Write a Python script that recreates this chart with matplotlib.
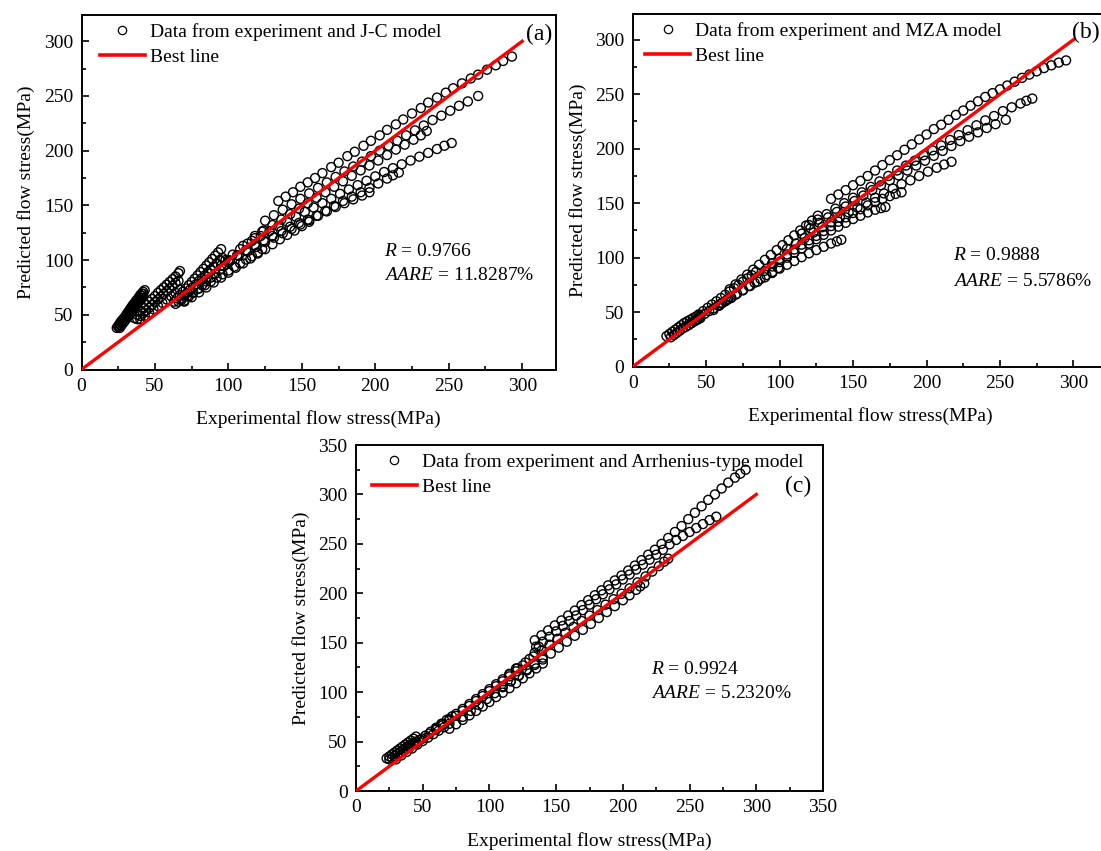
import matplotlib
matplotlib.use("Agg")
import matplotlib.pyplot as plt
from matplotlib.lines import Line2D
from matplotlib.ticker import MultipleLocator

plt.rcParams['font.family'] = ['Liberation Serif', 'DejaVu Serif']
plt.rcParams['mathtext.fontset'] = 'custom'
plt.rcParams['mathtext.it'] = 'Liberation Serif:italic'
plt.rcParams['mathtext.rm'] = 'Liberation Serif'

# ---------------- Panel (a): J-C model ----------------
A1 = [(134,154),(139,158),(144,162),(149,167),(154,171),(159,175),(164,179.5),(170,185),(175,189),(181,195),
      (186,199),(192,204.5),(197,209),(203,214),(208,219),(214,224),(219,228.5),(225,234),(231,239),(236,244),
      (242,248.5),(248,253),(253,257),(259,261.5),(265,266),(270,269.5),(276,274),(282,278),(287,282),(293,286)]
A2 = [(125,136),(131,141),(137,146),(143,151),(149,156),(155,161),(161,166),(167,171),(173,176),(179,181),
      (185,185.5),(191,190),(197,195),(203,200),(209,204.5),(215,209),(221,214),(227,218.5),(233,223),(239,228),
      (245,232),(251,236.5),(257,241),(263,245),(270,250)]
A3 = [(118,122),(124,127),(130,132),(136,137),(142,142),(148,147),(154,152),(160,157),(166,162),(172,167),
      (178,172),(184,177),(190,182),(196,186.5),(202,191),(208,196),(214,201),(220,205.5),(226,210),(231,214),(235,218)]
A4 = [(110,113),(116,117.5),(122,122),(128,126.5),(134,131),(140,135),(146,139.5),(152,144),(158,148),(164,152),
      (170,156),(176,160.5),(182,164.5),(188,168.5),(194,172.5),(200,176.5),(206,180.5),(212,184),(218,187.5),
      (224,191),(230,194.5),(236,198),(242,201.5),(247,204.5),(252,207)]
A5 = [(100,100),(106,104.5),(112,109),(118,113.5),(124,118),(130,122),(136,126.5),(142,130.5),(148,134),(154,137),
      (160,140.5),(166,145),(172,149.5),(178,154),(184,158),(190,162),(196,166),(202,170),(208,174.5),(212,177.5),(216,180)]
A6 = [(95,95),(101,99.5),(107,104),(113,108),(119,112),(125,116.5),(131,120.5),(137,124.5),(143,128.5),(149,132.5),
      (155,136.5),(161,140.5),(167,144.5),(173,148.5),(179,152),(185,155.5),(191,159),(196,162)]
A7 = [(64,60),(68,63.5),(72,67),(76,70.5),(80,74),(84,77),(88,80.5),(92,84),(96,87),(100,90.5),(104,94),(108,97),
      (112,100.5),(116,103.5),(120,107),(123,110)]
A8 = [(70,62),(75,66),(80,70.5),(85,75),(90,79.5),(95,84),(100,88.5),(105,93),(110,97),(115,101.5),(120,106),
      (125,110),(130,114.5),(135,119),(140,123),(145,127),(150,131),(155,135)]
A9 = [(98,100),(103,105),(108,110),(113,115),(118,120),(123,126)]
A10 = [(24,38),(25,40),(26,42),(27,44),(28,45.5),(29,47),(30,49),(31,51),(32,53),(33,55),(34,57),(35,59),
       (36,60.5),(37,62.5),(38,64),(39,66),(40,68),(41,69.5),(42,71),(43,72.5)]
A11 = [(26,38),(27,40),(28,42),(29,43.5),(30,45.5),(31,47),(32,49),(33,51),(34,53),(35,54.5),(36,56.5),(37,58),
       (38,60),(39,62),(40,63.5),(41,65)]
A18 = [(25,39),(26,41),(27,43),(28,44.5),(29,46),(30,48),(31,50),(32,52),(33,54),(34,55.5),(35,57.5),(36,59),
       (37,61),(38,62.5),(39,64.5),(40,66),(41,67.5),(42,69)]
A12 = [(36,47),(38,50),(40,53),(42,56),(44,59),(46,62),(48,64.5),(50,67),(52,70),(54,72.5),(56,75),(58,77.5),
       (60,80),(62,82.5),(64,85),(66,88),(67,90)]
A13 = [(38,46),(40,49),(42,51.5),(44,54),(46,56.5),(48,59),(50,61.5),(52,64),(54,66.5),(56,69),(58,71.5),(60,74),
       (62,76.5),(64,79),(66,81)]
A14 = [(40,46),(43,49),(46,52),(49,55),(52,58),(55,61),(58,64),(61,67),(64,70),(67,73)]
A15 = [(63,62),(65,65),(67,68),(69,71),(71,74),(73,77),(75,80),(77,83),(79,86),(81,89),(83,92),(85,95),(87,98),
       (89,101),(91,104),(93,107),(95,110)]
A16 = [(66,62),(68,65),(70,67.5),(72,70),(74,73),(76,75.5),(78,78),(80,81),(82,83.5),(84,86),(86,89),(88,91.5),
       (90,94),(92,97),(94,100),(96,102)]
A17 = [(70,63),(73,66.5),(76,70),(79,73.5),(82,77),(85,80.5),(88,84),(91,87.5),(94,91),(97,94.5),(100,98)]

# ---------------- Panel (b): MZA model ----------------
B1 = [(135,154),(140,158),(145,162),(150,166.5),(155,170.5),(160,175),(165,180),(170,185),(175,189.5),(180,194),
      (185,199),(190,204),(195,208.5),(200,213),(205,218),(210,222),(215,226.5),(220,231),(225,235),(230,239.5),
      (235,243.5),(240,247.5),(245,251),(250,254.5),(255,258),(260,261.5),(265,265),(270,268),(275,271),(280,274),
      (285,276.5),(290,279),(295,281)]
B2 = [(120,130),(126,135),(132,140),(138,145),(144,150),(150,155),(156,160),(162,165),(168,170),(174,175),
      (180,180),(186,184.5),(192,189),(198,194),(204,198.5),(210,203),(216,208),(222,212.5),(228,217),(234,221.5),
      (240,226),(246,230),(252,234.5),(258,238),(264,241.5),(268,244),(272,246)]
B3 = [(115,122),(121,127),(127,132),(133,137),(139,142),(145,147),(151,152),(157,157),(163,162),(169,166.5),
      (175,171),(181,175.5),(187,180),(193,184.5),(199,189),(205,193.5),(211,198),(217,202.5),(223,207),(229,211),
      (235,215),(241,219),(247,222.5),(254,226.5)]
B4 = [(105,108),(111,113),(117,118),(123,123),(129,128),(135,132.5),(141,137),(147,141.5),(153,146),(159,150.5),
      (165,155),(171,159),(177,163.5),(183,167.5),(189,171),(195,175),(201,179),(207,182.5),(212,185.5),(217,188)]
B5 = [(95,95),(100,99),(105,103),(110,107.5),(115,112),(120,116),(125,120),(130,124.5),(135,129),(140,133),
      (145,137),(150,141),(155,144.5),(160,148),(165,151),(170,154),(175,156.5),(179,158.5),(183,160)]
B6 = [(90,88),(95,92),(100,96),(105,100),(110,104.5),(115,108.5),(120,113),(125,117),(130,121),(135,125),
      (140,128.5),(145,132),(150,135.5),(155,138.5),(160,141.5),(165,144),(169,145.5),(172,146.5)]
B7 = [(60,58),(65,62),(70,66),(75,70),(80,74),(85,78),(90,82),(95,86),(100,90),(105,93.5),(110,97),(115,100.5),
      (120,104),(125,107),(130,110),(135,113),(139,115),(142,116.5)]
B8 = [(23,28),(25,30),(27,32),(29,34),(31,36),(33,38),(35,40),(37,41.5),(39,43),(41,44.5),(43,46),(45,47)]
B9 = [(26,27),(28,29),(30,31),(32,33),(34,35),(36,36.5),(38,38),(40,40),(42,41.5),(44,43),(46,44.5)]
B10 = [(40,40),(43,43),(46,46),(49,48.5),(52,51),(55,53.5),(58,56),(61,58.5),(64,61),(67,63)]
B11 = [(45,48),(48,51),(51,54),(54,57),(57,60),(60,63),(63,66),(66,69),(69,72),(72,75),(75,78),(78,81),(81,84),(84,87)]
B12 = [(55,52),(59,56),(63,60),(67,63.5),(71,67),(75,70.5),(79,74),(83,77),(87,80.5),(91,84),(95,87),(99,90.5)]
B13 = [(66,71),(70,75.5),(74,80),(78,84.5),(82,89),(86,93.5),(90,98),(94,102.5),(98,107),(102,111.5),(106,116),
       (110,120.5),(114,125),(118,129.5),(122,134),(126,138.5)]

# ---------------- Panel (c): Arrhenius-type model ----------------
C1 = [(134,152.5),(139,157.5),(144,162.5),(149,167.5),(154,172.5),(159,177.5),(164,182.5),(169,188),(174,193),
      (179,198),(184,203),(189,208),(194,213),(199,218),(204,223),(209,228),(214,233.5),(219,239),(224,244),
      (229,250),(234,256),(239,262),(244,268),(249,275),(254,281.5),(259,288),(264,294.5),(269,300),(274,306),
      (279,312),(284,317),(288,321),(292,325)]
C2 = [(135,146),(140,151),(145,156),(150,161.5),(155,167),(160,172),(165,177.5),(170,183),(175,188.5),(180,194),
      (185,199),(190,204),(195,209),(200,214),(205,219),(210,224),(215,229),(220,234),(225,239),(230,244),
      (235,249.5),(240,254),(245,258),(250,262),(255,266),(260,270),(265,274),(270,277.5)]
C3 = [(115,118),(121,124),(127,130),(133,136),(139,142),(145,148),(151,154),(157,160),(163,166),(169,172),
      (175,177.5),(181,183),(187,188.5),(193,194),(199,199.5),(205,205),(211,211),(217,217),(222,222),(227,227.5),
      (231,232),(234,235)]
C4 = [(110,106),(116,111),(122,116.5),(128,122),(134,127.5),(140,133),(146,139),(152,145),(158,151),(164,157),
      (170,163),(176,169),(182,175),(188,181),(194,187),(200,193),(205,198),(210,203.5),(213,207),(216,210)]
C5 = [(70,63),(75,67.5),(80,72),(85,76.5),(90,81),(95,85.5),(100,90),(105,95),(110,99.5),(115,104),(120,109),
      (125,114),(130,119),(135,124),(140,129)]
C6 = [(80,75),(86,81),(92,87),(98,93),(104,99),(110,105),(116,111),(122,117),(128,123),(134,129),(140,135)]
C7 = [(60,62),(65,66.5),(70,71.5),(75,76),(80,81),(85,86),(90,91),(95,96),(100,101),(105,106),(110,111),
      (115,116),(120,121),(125,127),(130,133.5),(134,140),(137,146)]
C8 = [(23,33),(25,35),(27,37),(29,39),(31,41),(33,43),(35,45),(37,47),(39,49),(41,51),(43,53),(45,55)]
C9 = [(25,32),(27,33.5),(29,35.5),(31,37.5),(33,39),(35,41),(37,43),(39,44.5),(41,46.5),(43,48),(45,50)]
C10 = [(40,44),(44,48),(48,52),(52,56),(56,60),(60,64),(64,68),(68,72),(72,75.5)]
C11 = [(30,32),(34,36),(38,39.5),(42,43),(46,47),(50,50.5),(54,54),(58,57.5),(62,61),(66,64.5),(70,68)]
C12 = [(45,48),(50,53),(55,58),(60,63),(65,68),(70,73),(75,78),(80,83),(85,88),(90,93),(95,98),(100,103),
       (105,108),(110,113),(115,118.5),(120,124)]

BEST_LINE = [0, 300]

PANELS = [
    dict(curves=[A1,A2,A3,A4,A5,A6,A7,A8,A9,A10,A11,A18,A12,A13,A14,A15,A16,A17],
         label='Data from experiment and J-C model', tag='(a)',
         r_text='0.9766', aare_text='11.8287%'),
    dict(curves=[B1,B2,B3,B4,B5,B6,B7,B8,B9,B10,B11,B12,B13],
         label='Data from experiment and MZA model', tag='(b)',
         r_text='0.9888', aare_text='5.5786%'),
    dict(curves=[C1,C2,C3,C4,C5,C6,C7,C8,C9,C10,C11,C12],
         label='Data from experiment and Arrhenius-type model', tag='(c)',
         r_text='0.9924', aare_text='5.2320%'),
]

W, H = 1101, 851
fig = plt.figure(figsize=(W/100, H/100), dpi=100)

def px_axes(l, t, r, b):
    return fig.add_axes([l/W, 1 - b/H, (r-l)/W, (b-t)/H])

boxes = [(81.5, 15, 556, 369.5), (632.7, 14, 1107.2, 366.7), (356, 445, 823, 791)]
axes = [px_axes(*bx) for bx in boxes]
limits = [(323, 324), (323, 323.6), (350, 350)]
text_pos = [(206, 104, 82), (218, 97.5, 74.5), (221, 118, 94.5)]
tag_pos = [(0.992, 0.975, 'top'), (0.983, 0.978, 'top'), (0.975, 0.88, 'center')]
leg_gap = [18.5, 12.5, 16]   # px from left spine to legend handle

FS = 14
for ax, bx, p, (xm, ym), (tx, ty1, ty2), (gx, gy, gva), lg in zip(
        axes, boxes, PANELS, limits, text_pos, tag_pos, leg_gap):
    wpx = bx[2] - bx[0]
    hpx = bx[3] - bx[1]
    for c in p['curves']:
        xs = [q[0] for q in c]
        ys = [q[1] for q in c]
        ax.scatter(xs, ys, s=42, facecolors='none', edgecolors='black', linewidths=1.0, zorder=2)
    ax.plot(BEST_LINE, BEST_LINE, color='#ff0000', lw=2.4, zorder=3)
    ax.set_xlim(0, xm)
    ax.set_ylim(0, ym)
    ax.xaxis.set_major_locator(MultipleLocator(50))
    ax.xaxis.set_minor_locator(MultipleLocator(25))
    ax.yaxis.set_major_locator(MultipleLocator(50))
    ax.yaxis.set_minor_locator(MultipleLocator(25))
    ax.tick_params(which='both', direction='in', labelsize=FS, width=1.2)
    ax.tick_params(which='major', length=5, pad=6)
    ax.tick_params(which='minor', length=3)
    for s in ax.spines.values():
        s.set_linewidth(1.4)
    ax.set_xlabel('Experimental flow stress(MPa)', fontsize=FS, labelpad=11)
    ax.set_ylabel('Predicted flow stress(MPa)', fontsize=FS, labelpad=6)
    handles = [Line2D([], [], ls='none', marker='o', markersize=6, markerfacecolor='none',
                      markeredgecolor='black', markeredgewidth=0.9),
               Line2D([], [], color='#ff0000', lw=2.6)]
    ax.legend(handles, [p['label'], 'Best line'], loc='upper left', frameon=False, fontsize=FS,
              handlelength=2.3, handletextpad=0.25, labelspacing=0.38, borderaxespad=0.0,
              borderpad=0.2, bbox_to_anchor=((lg - 3.9) / wpx, 1 - 4.5 / hpx))
    ax.text(tx, ty1, r'$R$ = ' + p['r_text'], fontsize=FS)
    ax.text(tx, ty2, r'$AARE$ = ' + p['aare_text'], fontsize=FS)
    ax.text(gx, gy, p['tag'], transform=ax.transAxes, ha='right', va=gva, fontsize=17)

fig.savefig('out.png', dpi=100)
